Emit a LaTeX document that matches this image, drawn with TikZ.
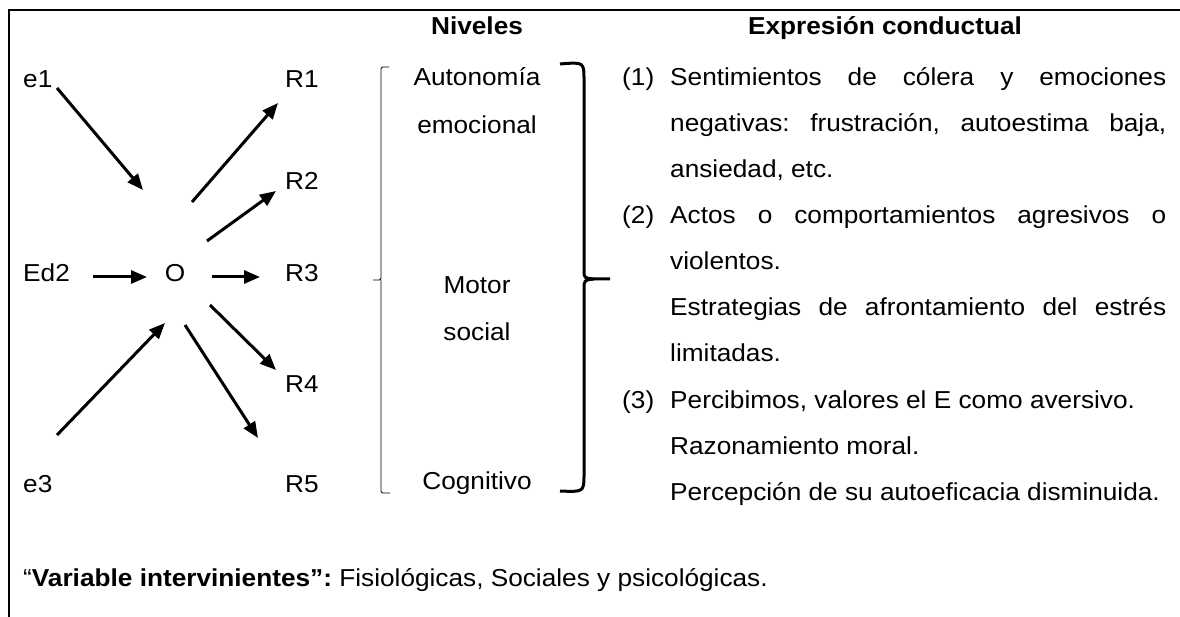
\documentclass[tikz,border=0pt]{standalone}
\usepackage{fontspec}
\setmainfont{Liberation Sans}[FakeStretch=1.07]
\usetikzlibrary{arrows.meta}

\begin{document}
\begin{tikzpicture}[x=1pt, y=-1pt,
    every node/.style={inner sep=0pt, font=\fontsize{24.5}{46}\selectfont\frenchspacing},
    flecha/.style={-{Triangle[length=16pt, width=13pt]}, line width=3pt},
    izq/.style={anchor=base west},
    centro/.style={anchor=base}]
    \useasboundingbox (0,0) rectangle (1180,617);
    \draw[line width=1.6pt] (1180,10) -- (9,10) -- (9,617);

    % encabezados
    \node[centro] (niv) at (477,35) {\textbf{Niveles}};
    \node[centro] (expr) at (885,35) {\textbf{Expresión conductual}};

    % esquema E-O-R
    \node[izq] (e1) at (23,88) {e1};
    \node[izq] (ed2) at (23,282) {Ed2};
    \node[izq] (e3) at (23,492) {e3};
    \node[centro] (o) at (175,282) {O};
    \node[izq] (r1) at (285,88) {R1};
    \node[izq] (r2) at (285,190) {R2};
    \node[izq] (r3) at (285,282) {R3};
    \node[izq] (r4) at (285,392) {R4};
    \node[izq] (r5) at (285,492) {R5};

    \coordinate (a1) at (57,88);   \coordinate (b1) at (143,190);
    \coordinate (a2) at (93,277);  \coordinate (b2) at (147,277);
    \coordinate (a3) at (57,435);  \coordinate (b3) at (165,323);
    \coordinate (c1) at (192,202); \coordinate (d1) at (278,103);
    \coordinate (c2) at (207,241); \coordinate (d2) at (276,191);
    \coordinate (c3) at (212,277); \coordinate (d3) at (260,277);
    \coordinate (c4) at (210,305); \coordinate (d4) at (276,370);
    \coordinate (c5) at (185,325); \coordinate (d5) at (258,438);
    \foreach \i in {1,2,3} \draw[flecha] (a\i) -- (b\i);
    \foreach \i in {1,...,5} \draw[flecha] (c\i) -- (d\i);

    % niveles
    \node[centro] (n1) at (477,86) {Autonomía};
    \node[centro] (n1b) at (477,134) {emocional};
    \node[centro] (n2) at (477,294) {Motor};
    \node[centro] (n2b) at (477,341) {social};
    \node[centro] (n3) at (477,489) {Cognitivo};
    \draw[line width=0.8pt, rounded corners=1.5pt]
        (389,67) -- (381,67) -- (381,280) -- (373,280) (381,280) -- (381,493) -- (390,493);
    \draw[line width=3pt]
        (560,64) .. controls (584,62) .. (584,80) -- (584,270)
        .. controls (584,278) .. (594,279) -- (610,279);
    \draw[line width=3pt]
        (594,279) .. controls (584,280) .. (584,290) -- (584,474)
        .. controls (584,492) .. (560,491);

    % expresion conductual
    \node[izq] (p1) at (622,86) {(1)};
    \node[izq] (p2) at (622,224) {(2)};
    \node[izq] (p3) at (622,408) {(3)};
    \node[izq] (l1) at (670,86) {\makebox[496pt][s]{Sentimientos de cólera y emociones}};
    \node[izq] (l2) at (670,132) {\makebox[496pt][s]{negativas: frustración, autoestima baja,}};
    \node[izq] (l3) at (670,178) {ansiedad, etc.};
    \node[izq] (l4) at (670,224) {\makebox[496pt][s]{Actos o comportamientos agresivos o}};
    \node[izq] (l5) at (670,270) {violentos.};
    \node[izq] (l6) at (670,316) {\makebox[496pt][s]{Estrategias de afrontamiento del estrés}};
    \node[izq] (l7) at (670,362) {limitadas.};
    \node[izq] (l8) at (670,408) {Percibimos, valores el E como aversivo.};
    \node[izq] (l9) at (670,454) {Razonamiento moral.};
    \node[izq] (l10) at (670,500) {Percepción de su autoeficacia disminuida.};

    \node[izq] (var) at (23,586) {“\textbf{Variable intervinientes”:} Fisiológicas, Sociales y psicológicas.};
\end{tikzpicture}
\end{document}
